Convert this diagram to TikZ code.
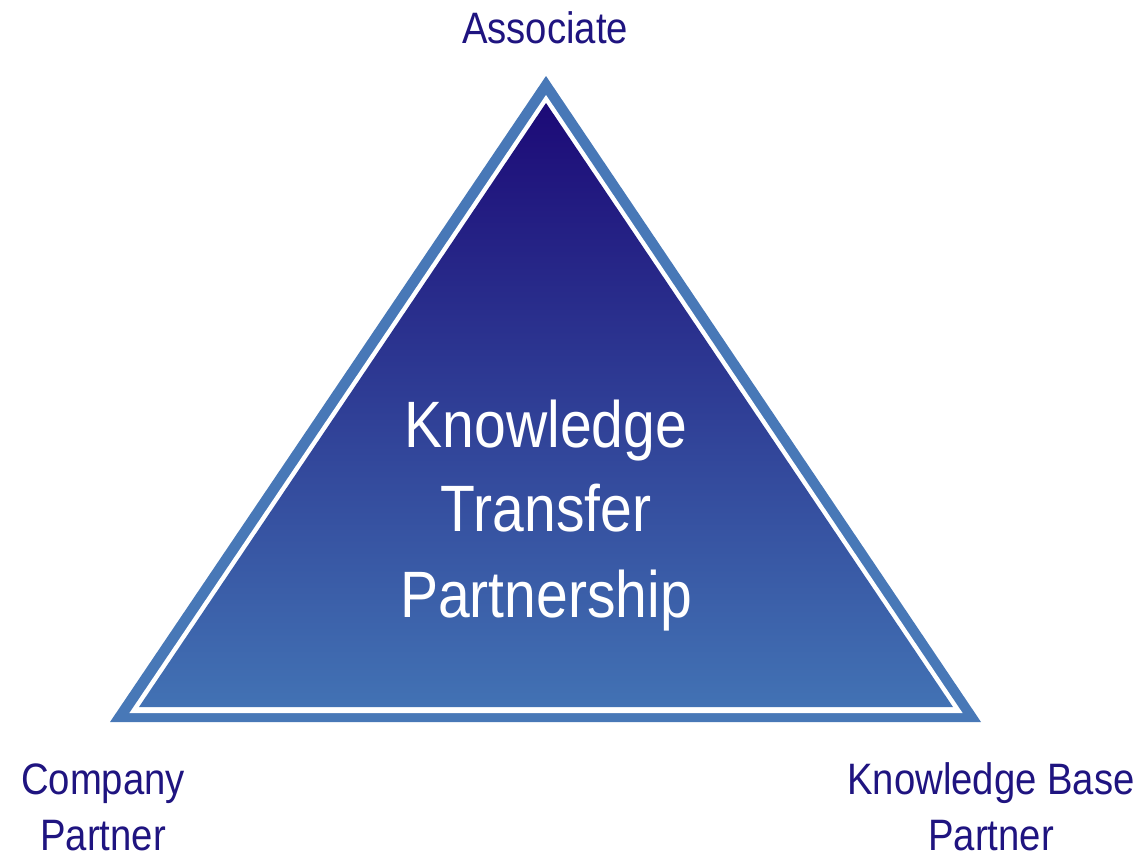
\documentclass[tikz,border=0pt]{standalone}
\usepackage{fontspec}
\newfontfamily\labfont[FakeStretch=0.87]{Liberation Sans}
\definecolor{labcol}{HTML}{1F1480}
\definecolor{rimblue}{HTML}{4878B7}
\definecolor{topblue}{HTML}{1C0A77}
\definecolor{botblue}{HTML}{4272B4}
\begin{document}
\begin{tikzpicture}[x=1pt,y=-1pt,
  outerlab/.style={anchor=base,inner sep=0pt,text=labcol,font=\labfont\fontsize{44}{52}\selectfont},
  innerlab/.style={anchor=base,inner sep=0pt,text=white,font=\labfont\fontsize{65.6}{80}\selectfont}]
\useasboundingbox (0,0) rectangle (1148,855);
% outer rim
\fill[rimblue] (546,76) coordinate (oa) -- (110,722) coordinate (ol) -- (981,722) coordinate (or) -- cycle;
% white line
\fill[white] (546,95) -- (129.4,713) -- (962.6,713) -- cycle;
% gradient body
\shade[top color=topblue,bottom color=botblue] (546,103) -- (139,707) -- (953,707) -- cycle;
% inner text
\node[innerlab] (k1) at (546,447) {Knowledge};
\node[innerlab] (k2) at (546,531) {Transfer};
\node[innerlab] (k3) at (546,617) {Partnership};
% corner labels
\node[outerlab] (assoc) at (545,43) {Associate};
\node[outerlab] (comp1) at (103,794) {Company};
\node[outerlab] (comp2) at (103,850) {Partner};
\node[outerlab] (kb1) at (991,794) {Knowledge Base};
\node[outerlab] (kb2) at (991,850) {Partner};
\end{tikzpicture}
\end{document}
